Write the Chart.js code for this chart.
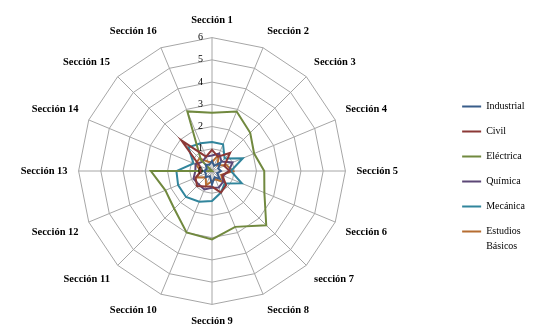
<!DOCTYPE html>
<html>
<head>
<meta charset="utf-8">
<script src="https://cdn.jsdelivr.net/npm/chart.js@4/dist/chart.umd.min.js"></script>
<style>
  html, body { margin: 0; padding: 0; background: #fff; }
  #wrap { width: 535px; height: 329px; position: relative; }
</style>
</head>
<body>
<div id="wrap"><canvas id="radar"></canvas></div>
<script>
// Sections around the radar
const sections = [
    "Sección 1", "Sección 2", "Sección 3", "Sección 4", "Sección 5", "Sección 6",
    "sección 7", "Sección 8", "Sección 9", "Sección 10", "Sección 11", "Sección 12",
    "Sección 13", "Sección 14", "Sección 15", "Sección 16"
];

// Values per career
const industrial = [0.45, 0.25, 0.55, 0.3, 0.4, 0.25, 0.5, 0.3, 0.6, 0.25, 0.4, 0.3, 0.35, 0.25, 0.4, 0.3];
const civil      = [0.95, 0.7, 1.15, 0.6, 0.8, 0.5, 0.9, 1.05, 0.7, 0.75, 0.95, 0.8, 0.5, 0.6, 1.95, 0.7];
const electrica  = [2.62, 2.9, 2.43, 2.05, 2.35, 2.55, 3.45, 2.72, 3.08, 2.99, 2.4, 2.27, 2.75, 0, 0.7, 2.9];
const quimica    = [0.7, 0.85, 0.6, 1.0, 0.75, 0.55, 0.7, 0.8, 0.75, 0.9, 0.85, 0.9, 0.75, 0.8, 0.6, 0.7];
const mecanica   = [1.3, 1.3, 0.8, 1.5, 0.85, 1.45, 0.8, 1.05, 1.35, 1.5, 1.65, 1.65, 1.6, 0.9, 1.5, 1.35];
const basicos    = [0.4, 0.8, 0.35, 0.7, 0.95, 0.45, 0.7, 0.4, 0.45, 0.7, 0.4, 0.75, 0.5, 0.8, 0.8, 0.45];

// Radial tick labels
const tickValues = [0, 1, 2, 3, 4, 5, 6];
const tickLabels = ["0", "1", "2", "3", "4", "5", "6"];

const serif = "'Liberation Serif', 'DejaVu Serif', serif";

function series(label, data, color) {
    return {
        label: label,
        data: data,
        borderColor: color,
        backgroundColor: color,
        borderWidth: 2,
        fill: false,
        pointRadius: 0,
        pointHoverRadius: 0
    };
}

// draws the 0..6 labels just left of the vertical axis
const tickLabelPlugin = {
    id: 'tickLabels',
    afterDatasetsDraw(chart) {
        const s = chart.scales.r;
        const ctx = chart.ctx;
        ctx.save();
        ctx.font = '10px ' + serif;
        ctx.fillStyle = '#000';
        ctx.textAlign = 'right';
        ctx.textBaseline = 'middle';
        tickValues.forEach((v, i) => {
            const d = s.getDistanceFromCenterForValue(v);
            ctx.fillText(tickLabels[i], s.xCenter - 9, s.yCenter - d);
        });
        ctx.restore();
    }
};

// empty box between the radar and the legend, pushes the radar to the left
const gapPlugin = {
    id: 'gap',
    beforeInit(chart) {
        Chart.layouts.addBox(chart, {
            position: 'right',
            weight: 0,
            fullSize: false,
            options: {},
            left: 0, top: 0, right: 0, bottom: 0, width: 0, height: 0,
            isHorizontal() { return false; },
            update(maxWidth, maxHeight) { this.width = 26; this.height = maxHeight; },
            getPadding() { return { left: 0, top: 0, right: 0, bottom: 0 }; },
            draw() {}
        });
    }
};

const ctx = document.getElementById('radar').getContext('2d');
new Chart(ctx, {
    type: 'radar',
    data: {
        labels: sections,
        datasets: [
            series('Industrial', industrial, '#385d8a'),
            series('Civil', civil, '#8c3836'),
            series('Eléctrica', electrica, '#71893f'),
            series('Química', quimica, '#5c4776'),
            series('Mecánica', mecanica, '#31859c'),
            series('Estudios Básicos', basicos, '#b66d31')
        ]
    },
    options: {
        responsive: true,
        maintainAspectRatio: false,
        animation: false,
        layout: { padding: { top: 15, left: 0, right: 0, bottom: 0 } },
        elements: { line: { tension: 0 } },
        plugins: {
            tooltip: { enabled: false },
            legend: {
                position: 'right',
                title: { display: true, text: '', font: { size: 10 }, padding: 1 },
                labels: {
                    usePointStyle: true,
                    pointStyle: 'line',
                    pointStyleWidth: 19,
                    padding: 15,
                    color: '#000',
                    font: { family: serif, size: 10, lineHeight: 1.5 },
                    generateLabels(chart) {
                        const items = Chart.defaults.plugins.legend.labels.generateLabels(chart);
                        items.forEach(it => {
                            if (it.text === 'Estudios Básicos') it.text = ['Estudios', 'Básicos'];
                        });
                        return items;
                    }
                }
            }
        },
        scales: {
            r: {
                min: 0,
                max: 6,
                ticks: { stepSize: 1, display: false },
                grid: { color: '#a6a6a6', lineWidth: 1 },
                angleLines: { color: '#a6a6a6', lineWidth: 1 },
                pointLabels: {
                    color: '#000',
                    padding: 11,
                    font: { family: serif, size: 10.5, weight: 'bold' }
                }
            }
        }
    },
    plugins: [tickLabelPlugin, gapPlugin]
});
</script>
</body>
</html>
